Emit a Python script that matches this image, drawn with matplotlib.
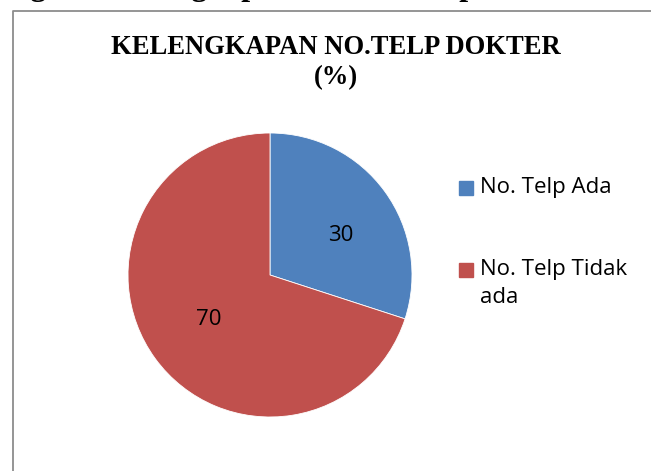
import numpy as np
import matplotlib.pyplot as plt
from matplotlib.lines import Line2D
from matplotlib.patches import Rectangle

# data
labels = ['No. Telp Ada', 'No. Telp Tidak\nada']
values = [30, 70]
colors = ['#4F81BD', '#C0504D']
caption = 'Diagram Kelengkapan Nomor Telepon Dokter'

W, H = 651, 471
fig = plt.figure(figsize=(W / 100, H / 100), dpi=100)

# caption line above the chart, mostly cut off by the page edge
fig.text(-18 / W, 1 + 4.5 / H, caption, fontsize=23, fontweight='bold',
         family='Liberation Serif', ha='left', va='baseline')

# chart frame (only top and left edges visible)
fig.add_artist(Line2D([12.5 / W, 12.5 / W, 1.0], [0.0, 1 - 11 / H, 1 - 11 / H],
                      transform=fig.transFigure, color='#8c8c8c', lw=1.3))

fig.text(336 / W, 1 - 47 / H, 'KELENGKAPAN NO.TELP DOKTER', fontsize=19.2,
         fontweight='bold', family='Liberation Serif', ha='center', va='center')
fig.text(336 / W, 1 - 78 / H, '(%)', fontsize=19.2,
         fontweight='bold', family='Liberation Serif', ha='center', va='center')

# pie centred at (270, 275) px with radius 142 px
r = 142
ax = fig.add_axes([(270 - r) / W, (H - 275 - r) / H, 2 * r / W, 2 * r / H])
wedges, texts = ax.pie(values, colors=colors, startangle=90, counterclock=False,
                       labels=[str(v) for v in values], labeldistance=0.56,
                       wedgeprops=dict(edgecolor='white', linewidth=0.6),
                       textprops=dict(fontsize=16, family='Open Sans'))
# Excel-like label placement: nudge the small slice label outward/down
for w, t in zip(wedges, texts):
    t.set_ha('center')
    t.set_va('center')
    mid = np.deg2rad((w.theta1 + w.theta2) / 2)
    if w.theta2 - w.theta1 < 180:
        mid -= np.deg2rad(7)
        t.set_position((0.57 * np.cos(mid), 0.57 * np.sin(mid)))
    else:
        t.set_position((0.53 * np.cos(mid), 0.53 * np.sin(mid)))
ax.set_xlim(-1, 1)
ax.set_ylim(-1, 1)
ax.set_aspect('equal')
ax.axis('off')

# legend, square aligned with the first line of each entry
ys = [188, 270]
for lab, col, y in zip(labels, colors, ys):
    fig.add_artist(Rectangle((459 / W, 1 - (y + 7) / H), 14 / W, 14 / H,
                             transform=fig.transFigure, color=col))
    fig.text(480 / W, 1 - (y - 11) / H, lab, fontsize=16, family='Open Sans',
             ha='left', va='top', linespacing=1.45)

plt.savefig('out.png', dpi=100)
